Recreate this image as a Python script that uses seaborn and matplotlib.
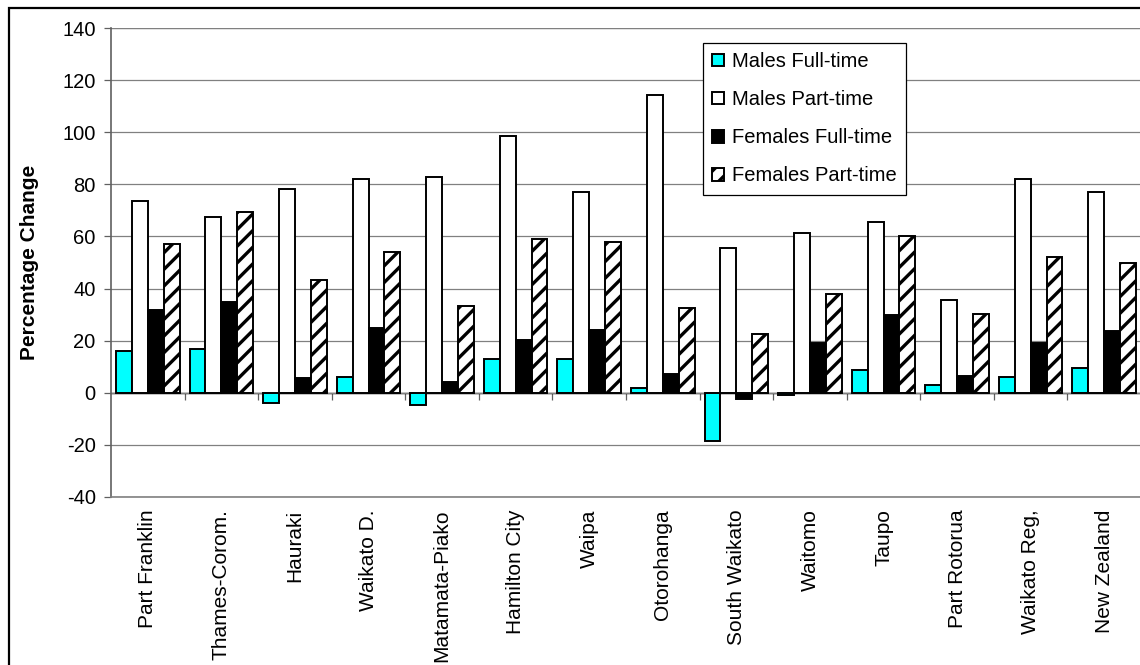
import numpy as np
import pandas as pd
import matplotlib
matplotlib.use("Agg")
import matplotlib.pyplot as plt
from matplotlib.patches import Rectangle
import seaborn as sns

# Percentage change in employment by district and work status
regions = ["Part Franklin", "Thames-Corom.", "Hauraki", "Waikato D.", "Matamata-Piako",
           "Hamilton City", "Waipa", "Otorohanga", "South Waikato", "Waitomo", "Taupo",
           "Part Rotorua", "Waikato Reg,", "New Zealand"]
series = ["Males Full-time", "Males Part-time", "Females Full-time", "Females Part-time"]
males_ft = [16.1, 16.9, -3.8, 6.1, -4.5, 13.0, 13.0, 1.7, -18.5, -0.9, 8.7, 3.1, 6.1, 9.4]
males_pt = [73.7, 67.5, 78.2, 82.1, 82.9, 98.4, 76.9, 114.4, 55.4, 61.4, 65.5, 35.5, 82.1, 76.9]
females_ft = [31.7, 34.8, 5.6, 24.8, 4.1, 20.2, 24.1, 7.3, -2.4, 19.0, 29.7, 6.5, 19.0, 23.6]
females_pt = [57.1, 69.5, 43.4, 54.0, 33.3, 59.2, 57.9, 32.6, 22.6, 37.9, 60.3, 30.3, 52.0, 49.7]
y_ticks = [-40, -20, 0, 20, 40, 60, 80, 100, 120, 140]

df = pd.DataFrame({
    "region": regions * 4,
    "series": np.repeat(series, len(regions)),
    "value": males_ft + males_pt + females_ft + females_pt,
})

sns.set_theme(style="white")
plt.rcParams["font.family"] = ["Liberation Sans", "DejaVu Sans"]
plt.rcParams["hatch.linewidth"] = 2.4
plt.rcParams["hatch.color"] = "black"
plt.rcParams["text.color"] = "black"

fig = plt.figure(figsize=(11.4, 6.65), dpi=100)
ax = fig.add_axes([111 / 1140, 168 / 665, 1030 / 1140, 469 / 665])

fills = ["#00FFFF", "white", "black", "white"]
sns.barplot(data=df, x="region", y="value", hue="series", order=regions,
            hue_order=series, palette=fills, width=0.865, gap=0,
            edgecolor="black", linewidth=1.4, saturation=1, legend=False, ax=ax)

# hatched pattern for female part-time bars
for bar in ax.containers[3]:
    bar.set_hatch("//")

ax.set_xlim(-0.5, len(regions) - 0.5)
ax.set_ylim(-40, 140)
ax.set_yticks(y_ticks)
ax.set_yticklabels([str(t) for t in y_ticks], fontsize=14.5)
ax.yaxis.grid(True, color="#808080", linewidth=0.9)
ax.set_axisbelow(True)
ax.tick_params(axis="y", which="major", left=True, direction="out", length=5,
               width=0.9, color="#606060", pad=6, labelcolor="black")
ax.tick_params(axis="x", which="major", length=0, pad=9, labelcolor="black")
ax.set_xticks(range(len(regions)))
ax.set_xticklabels(regions, rotation=90, fontsize=15, va="top", ha="center")
ax.set_xlabel("")
ax.set_ylabel("Percentage Change", fontsize=15, fontweight="bold", color="black")
ax.yaxis.set_label_coords(-0.070, 0.5)

for side in ["top", "right"]:
    ax.spines[side].set_visible(False)
ax.spines["left"].set_color("#606060")
ax.spines["left"].set_linewidth(1.2)
ax.spines["bottom"].set_color("#808080")
ax.spines["bottom"].set_linewidth(1.2)
ax.axhline(140, color="#808080", linewidth=1.6, zorder=0.5)

# zero axis with category-boundary tick marks
zero_frac = (0 - (-40)) / (140 - (-40))
sec = ax.secondary_xaxis(zero_frac)
sec.set_xticks(np.arange(0.5, len(regions) - 0.5, 1.0))
sec.tick_params(direction="out", length=5, width=0.9, color="#606060",
                labelbottom=False, labeltop=False, bottom=True, top=False)
sec.spines["bottom"].set_color("black")
sec.spines["bottom"].set_linewidth(1.0)

handles = [c.patches[0] for c in ax.containers]
leg = ax.legend(handles, series, loc="upper left", bbox_to_anchor=(0.575, 0.968),
                borderaxespad=0, fontsize=14.5, frameon=True, fancybox=False,
                edgecolor="black", framealpha=1, handlelength=0.6,
                handleheight=0.6, handletextpad=0.4, labelspacing=0.95,
                borderpad=0.45)
leg.get_frame().set_linewidth(0.9)

# outer chart border
fig.patches.append(Rectangle((9 / 1140, -0.5), 2.0, 1.5 - 8 / 665,
                             transform=fig.transFigure, fill=False,
                             edgecolor="black", linewidth=1.6))

fig.savefig("out.png", dpi=100)
